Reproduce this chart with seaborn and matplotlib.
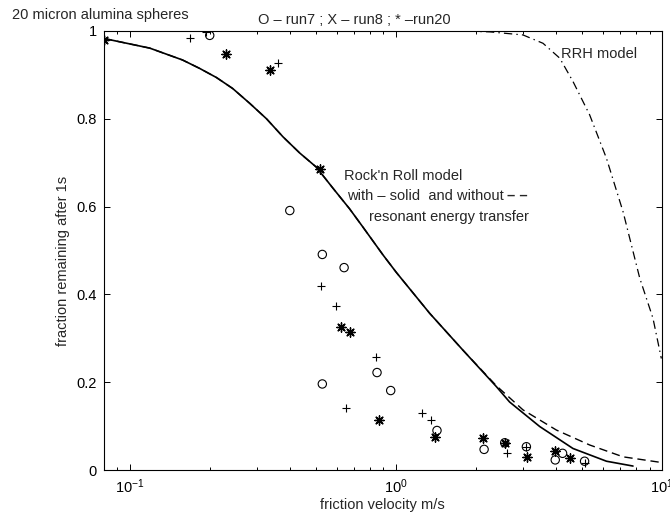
# plot.py
# Rock'n Roll / RRH resuspension models vs measured fraction remaining (20 micron alumina)
# Saves out.png at 670x514 px

import numpy as np
import pandas as pd
import seaborn as sns
import matplotlib.pyplot as plt
from matplotlib.ticker import FuncFormatter, LogLocator

run7_u = [0.200, 0.400, 0.530, 0.640, 0.851, 0.530, 0.958, 1.43, 2.15, 2.57, 3.10, 4.24, 3.98, 5.13]
run7_f = [0.990, 0.591, 0.491, 0.461, 0.222, 0.196, 0.181, 0.090, 0.047, 0.062, 0.053, 0.038, 0.023, 0.020]

run8_u = [0.169, 0.193, 0.361, 0.523, 0.598, 0.841, 0.653, 1.26, 1.36, 2.13, 2.57, 2.63, 3.10, 5.13]
run8_f = [0.985, 0.997, 0.926, 0.418, 0.374, 0.258, 0.142, 0.129, 0.114, 0.074, 0.062, 0.038, 0.053, 0.017]

run20_u = [0.080, 0.231, 0.336, 0.518, 0.625, 0.671, 0.865, 1.41, 2.13, 2.57, 3.12, 3.96, 4.54]
run20_f = [0.979, 0.947, 0.911, 0.686, 0.325, 0.315, 0.114, 0.076, 0.074, 0.062, 0.030, 0.044, 0.028]

rnr_u = [0.080, 0.119, 0.158, 0.183, 0.212, 0.244, 0.283, 0.327, 0.377, 0.436, 0.503, 0.581,
         0.671, 0.754, 0.896, 1.006, 1.342, 1.79, 2.39, 2.68, 3.48, 4.64, 6.20, 7.80]
rnr_f = [0.983, 0.961, 0.934, 0.915, 0.894, 0.869, 0.835, 0.800, 0.759, 0.722, 0.690, 0.642,
         0.595, 0.553, 0.490, 0.450, 0.357, 0.273, 0.190, 0.155, 0.099, 0.049, 0.020, 0.009]

rnr_nores_u = [0.080, 0.119, 0.158, 0.183, 0.212, 0.244, 0.283, 0.327, 0.377, 0.436, 0.503, 0.581,
               0.671, 0.754, 0.896, 1.006, 1.342, 1.79, 2.39, 3.01, 4.02, 5.36, 7.16, 10.0]
rnr_nores_f = [0.983, 0.961, 0.934, 0.915, 0.894, 0.869, 0.835, 0.800, 0.759, 0.722, 0.690, 0.642,
               0.595, 0.553, 0.490, 0.450, 0.357, 0.273, 0.192, 0.137, 0.091, 0.057, 0.030, 0.017]

rrh_u = [1.0, 1.8, 2.26, 3.01, 3.58, 4.14, 4.64, 5.36, 6.20, 7.16, 8.27, 9.27, 9.97]
rrh_f = [1.0, 1.0, 0.998, 0.991, 0.972, 0.938, 0.885, 0.809, 0.710, 0.588, 0.437, 0.346, 0.254]

sns.set_style("ticks")
plt.rcParams["font.family"] = ["Liberation Sans", "DejaVu Sans"]
plt.rcParams["mathtext.default"] = "regular"
plt.rcParams["font.size"] = 10.5
plt.rcParams["lines.scale_dashes"] = False

fig = plt.figure(figsize=(6.7, 5.14), dpi=100)
ax = fig.add_axes([0.155, 0.0856, 0.8326, 0.8541])
ax.set_xscale("log")

# models
sns.lineplot(x=rnr_nores_u, y=rnr_nores_f, sort=False, estimator=None, ax=ax,
             color="black", linewidth=1.0, linestyle=(0, (6, 3.5)))
sns.lineplot(x=rnr_u, y=rnr_f, sort=False, estimator=None, ax=ax,
             color="black", linewidth=1.2)
sns.lineplot(x=rrh_u, y=rrh_f, sort=False, estimator=None, ax=ax,
             color="black", linewidth=0.9, linestyle=(0, (6, 3, 1, 3)))

# data
sns.scatterplot(x=run7_u, y=run7_f, ax=ax, marker="o", s=36, color="black",
                facecolor="none", edgecolor="black", linewidth=0.8, zorder=3)
sns.scatterplot(x=run8_u, y=run8_f, ax=ax, marker="+", s=38, color="black",
                linewidth=0.8, zorder=3)
sns.scatterplot(x=run20_u, y=run20_f, ax=ax, marker=(8, 2, 0), s=44, color="black",
                linewidth=1.0, zorder=3)

ax.set_xlim(0.08, 10)
ax.set_ylim(0, 1)
ax.set_yticks([0, 0.2, 0.4, 0.6, 0.8, 1.0])
ax.yaxis.set_major_formatter(FuncFormatter(lambda v, p: "%g" % v))
ax.xaxis.set_minor_locator(LogLocator(base=10, subs=np.arange(2, 10), numticks=20))
ax.tick_params(which="both", direction="in", top=True, right=True, colors="black",
               labelsize=10.5, width=0.7)
ax.tick_params(which="major", length=4.5, pad=5)
ax.tick_params(which="minor", length=2.5)
for sp in ax.spines.values():
    sp.set_color("black")
    sp.set_linewidth(0.8)

ax.set_xlabel("friction velocity m/s", fontsize=10.5, labelpad=2)
ax.set_ylabel("fraction remaining after 1s", fontsize=10.5)
ax.yaxis.set_label_coords(-0.061, 0.476)

# annotations
ax.text(4.20, 0.947, "RRH model", va="center", ha="left")
ax.text(0.64, 0.670, "Rock'n Roll model", va="center", ha="left")
ax.text(0.656, 0.625, "with – solid  and without", va="center", ha="left")
ax.text(2.63, 0.625, "– –", va="center", ha="left", fontweight="bold")
ax.text(0.794, 0.577, "resonant energy transfer", va="center", ha="left")

fig.text(11.7 / 670, 1 - 15 / 514, "20 micron alumina spheres", va="center", ha="left")
fig.text(258 / 670, 1 - 20 / 514, "O – run7 ; X – run8 ; * –run20", va="center", ha="left")

fig.savefig("out.png", dpi=100)
plt.close(fig)
